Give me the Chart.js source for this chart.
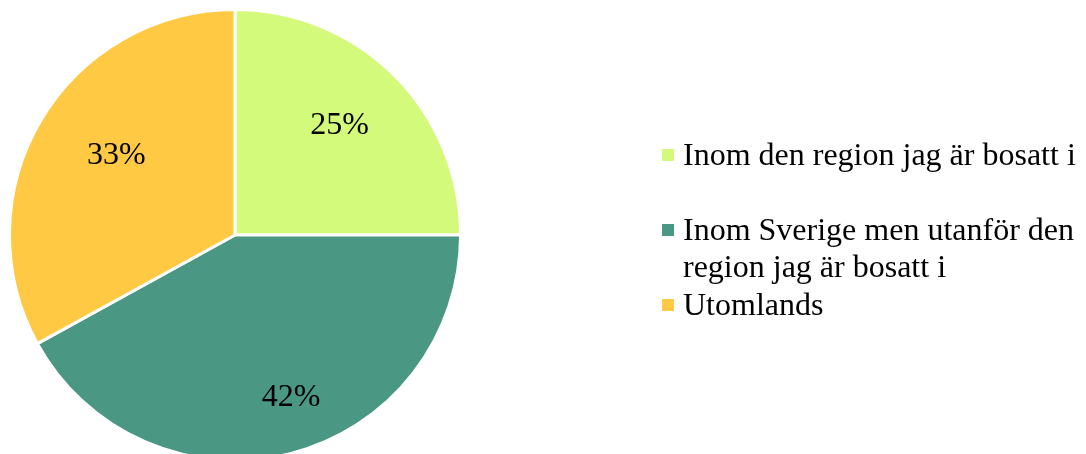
<!DOCTYPE html>
<html>
<head>
<meta charset="utf-8">
<script src="https://cdn.jsdelivr.net/npm/chart.js@4"></script>
<style>
html,body{margin:0;padding:0;background:#fff;overflow:hidden;}
#wrap{width:1086px;height:454px;overflow:hidden;position:relative;}
</style>
</head>
<body>
<div id="wrap"><canvas id="c" width="1086" height="470"></canvas></div>
<script>
const categories = ["Inom den region jag är bosatt i", "Inom Sverige men utanför den region jag är bosatt i", "Utomlands"];
const values = [25, 42, 33];
const colors = ["#D4FA7B", "#4A9783", "#FFC943"];

const FONT = "32px 'Liberation Serif', 'Times New Roman', serif";

const labelPlugin = {
  id: 'pctLabels',
  afterDatasetsDraw(chart) {
    const ctx = chart.ctx;
    const o = chart.options.plugins.pctLabels;
    const meta = chart.getDatasetMeta(0);
    const data = chart.data.datasets[0].data;
    const total = data.reduce((a, b) => a + b, 0);
    ctx.save();
    ctx.font = FONT;
    ctx.fillStyle = '#000';
    ctx.textAlign = 'center';
    ctx.textBaseline = 'alphabetic';
    meta.data.forEach((arc, i) => {
      const p = arc.getProps(['x', 'y', 'startAngle', 'endAngle', 'outerRadius'], true);
      const mid = (p.startAngle + p.endAngle) / 2 + o.angleShift[i] * Math.PI / 180;
      const r = p.outerRadius * o.radius[i];
      ctx.fillText(Math.round(data[i] / total * 100) + '%', p.x + Math.cos(mid) * r, p.y + Math.sin(mid) * r + 11);
    });
    ctx.restore();
  }
};

const legendPlugin = {
  id: 'wrapLegend',
  afterDraw(chart) {
    const ctx = chart.ctx;
    const o = chart.options.plugins.wrapLegend;
    ctx.save();
    ctx.font = FONT;
    ctx.textBaseline = 'alphabetic';
    ctx.textAlign = 'left';
    const ds = chart.data.datasets[0];
    chart.data.labels.forEach((lab, i) => {
      const words = lab.split(' ');
      const lines = [];
      let cur = '';
      words.forEach(w => {
        const t = cur ? cur + ' ' + w : w;
        if (ctx.measureText(t).width > o.maxWidth && cur) { lines.push(cur); cur = w; } else cur = t;
      });
      if (cur) lines.push(cur);
      const base = o.baselines[i];
      ctx.fillStyle = ds.backgroundColor[i];
      ctx.fillRect(o.boxX, base - 16, 12, 12);
      ctx.fillStyle = '#000';
      lines.forEach((ln, k) => ctx.fillText(ln, o.textX, base + k * o.lineHeight));
    });
    ctx.restore();
  }
};

new Chart(document.getElementById('c'), {
  type: 'pie',
  data: {
    labels: categories,
    datasets: [{
      data: values,
      backgroundColor: colors,
      borderColor: '#fff',
      borderWidth: 3
    }]
  },
  options: {
    responsive: false,
    animation: false,
    layout: { padding: { left: 8, top: 8, bottom: 8, right: 624 } },
    plugins: {
      legend: { display: false },
      tooltip: { enabled: false },
      pctLabels: { radius: [0.68, 0.75, 0.64], angleShift: [-2, -5, 4] },
      wrapLegend: { boxX: 662, textX: 683, maxWidth: 398, lineHeight: 37, baselines: [165, 240, 315] }
    }
  },
  plugins: [labelPlugin, legendPlugin]
});
</script>
</body>
</html>
